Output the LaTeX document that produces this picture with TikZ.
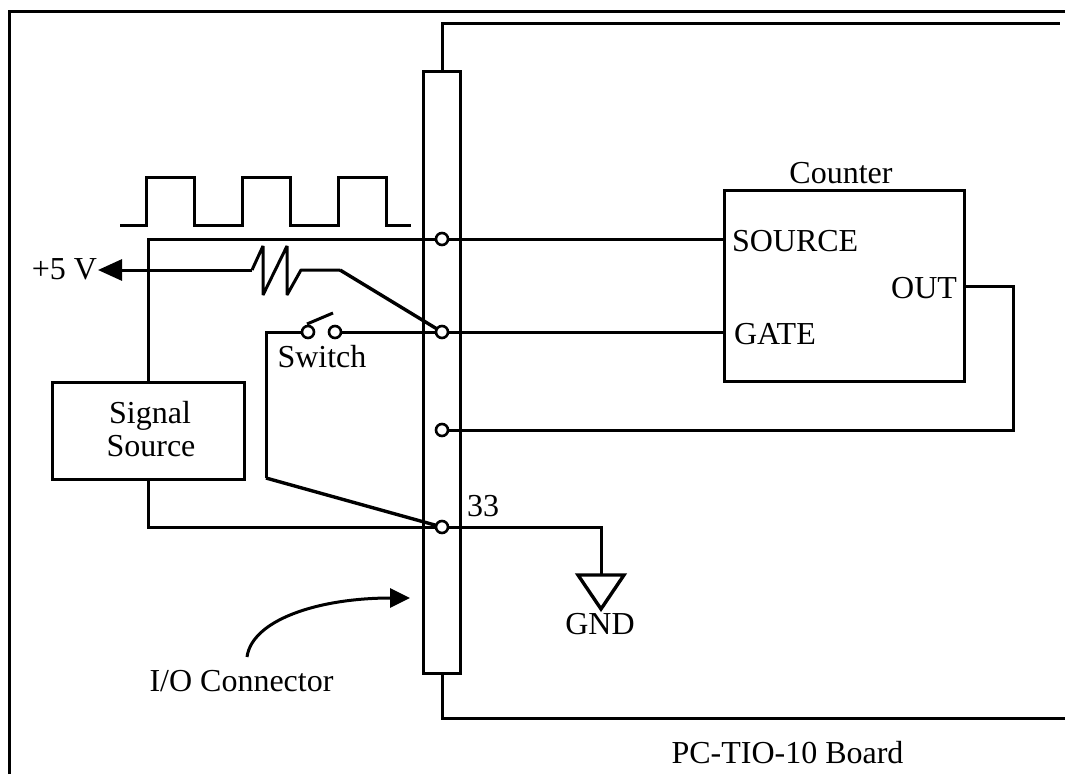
\documentclass[tikz,border=0pt]{standalone}
\usepackage{fontspec}
\setmainfont{Liberation Serif}
\usetikzlibrary{arrows.meta}
\tikzset{
  wire/.style={line width=3pt,line join=miter,line cap=butt},
  box/.style={draw,line width=3pt,inner sep=0pt,outer sep=0pt,anchor=north west},
  pin/.style={draw,circle,fill=white,line width=2.6pt,minimum size=12pt,inner sep=0pt,outer sep=0pt},
  lab/.style={inner sep=0pt,outer sep=0pt,font=\fontsize{32}{34}\selectfont},
  tip/.style={-{Triangle[length=24pt,width=21pt]}}
}
\begin{document}
\begin{tikzpicture}[x=1pt,y=-1pt]
\useasboundingbox (0,0) rectangle (1065,774);
% boxes
\node[box,minimum width=37pt,minimum height=602pt] (conn) at (423.5,71) {};
\node[box,minimum width=240pt,minimum height=191pt] (counter) at (724,190.5) {};
\node[box,minimum width=192pt,minimum height=97pt] (sig) at (52,382) {};
% board outline
\coordinate (frameA) at (9,774);
\coordinate (frameB) at (9,11);
\coordinate (frameC) at (1065,11);
\draw[wire] (frameA) -- (frameB) -- (frameC);
\coordinate (topB) at (442,23);
\coordinate (topC) at (1060,23);
\coordinate (botB) at (442,718);
\coordinate (botC) at (1065,718);
\draw[wire] (conn.north) -- (topB) -- (topC);
\draw[wire] (conn.south) -- (botB) -- (botC);
% pins
\coordinate (p1) at (442,239);
\coordinate (p2) at (442,332);
\coordinate (p3) at (442,430);
\coordinate (p4) at (442,527);
% source wire
\coordinate (s1) at (148,239);
\coordinate (s2) at (724,239);
\draw[wire] (sig.north -| s1) -- (s1) -- (s2);
% out wire
\coordinate (o1) at (964,286);
\coordinate (o2) at (1013,286);
\coordinate (o3) at (1013,430);
\draw[wire] (o1) -- (o2) -- (o3) -- (p3);
% gate wire
\coordinate (g1) at (724,332);
\draw[wire] (p2) -- (g1);
% pulse train
\coordinate (t0) at (120,225);
\draw[wire] (t0) -- (146,225) -- (146,177) -- (194,177) -- (194,225) -- (242,225) -- (242,177) -- (290,177) -- (290,225) -- (338,225) -- (338,177) -- (386,177) -- (386,225) -- (411,225);
% pull-up with resistor
\coordinate (v5) at (98,270);
\coordinate (r0) at (252,270);
\coordinate (r5) at (340,270);
\draw[wire,tip] (r0) -- (v5);
\draw[wire,line join=bevel] (r0) -- (263,246) -- (263,295) -- (287,246) -- (287,295) -- (301,270) -- (r5);
\draw[line width=3.4pt] (r5) -- (p2);
% switch
\node[pin] (swa) at (308,332) {};
\node[pin] (swb) at (335,332) {};
\coordinate (armA) at (307,324);
\coordinate (armB) at (333,313);
\draw[wire] (armA) -- (armB);
\draw[wire] (swb) -- (p2);
\coordinate (w1) at (266,332);
\coordinate (w2) at (266,478);
\draw[wire] (swa) -- (w1) -- (w2);
\draw[line width=3.4pt] (w2) -- (p4);
% signal return
\coordinate (b1) at (148,527);
\draw[wire] (sig.south -| b1) -- (b1) -- (p4);
% ground
\coordinate (g2) at (601,527);
\coordinate (g3) at (601,575);
\draw[wire] (p4) -- (g2) -- (g3);
\coordinate (gA) at (578,575);
\coordinate (gB) at (624,575);
\coordinate (gC) at (601,609);
\draw[line width=3.4pt,line join=miter] (gA) -- (gB) -- (gC) -- cycle;
% pin circles on top
\node[pin] at (p1) {};
\node[pin] at (p2) {};
\node[pin] at (p3) {};
\node[pin] at (p4) {};
% connector callout
\coordinate (c0) at (247,657);
\coordinate (c1) at (410,598);
\draw[wire,-{Triangle[length=20pt,width=19pt]}] (c0) .. controls (252,620) and (318,598) .. (c1);
% text
\node[lab,anchor=base] (tCounter) at (841,183) {Counter};
\node[lab,anchor=base west] (tSource) at (732,251) {SOURCE};
\node[lab,anchor=base west] (tGate) at (734,344) {GATE};
\node[lab,anchor=base east] (tOut) at (957,298) {OUT};
\node[lab,anchor=base] (tSig) at (150,423) {Signal};
\node[lab,anchor=base] (tSrc) at (151,456) {Source};
\node[lab,anchor=base east] (t5v) at (97,279) {+5 V};
\node[lab,anchor=base] (tSw) at (322,367) {Switch};
\node[lab,anchor=base west] (t33) at (467,516) {33};
\node[lab,anchor=base] (tGnd) at (600,634) {GND};
\node[lab,anchor=base] (tIO) at (241.5,691) {I/O Connector};
\node[lab,anchor=base] (tBoard) at (787.5,763) {PC-TIO-10 Board};
\end{tikzpicture}
\end{document}
